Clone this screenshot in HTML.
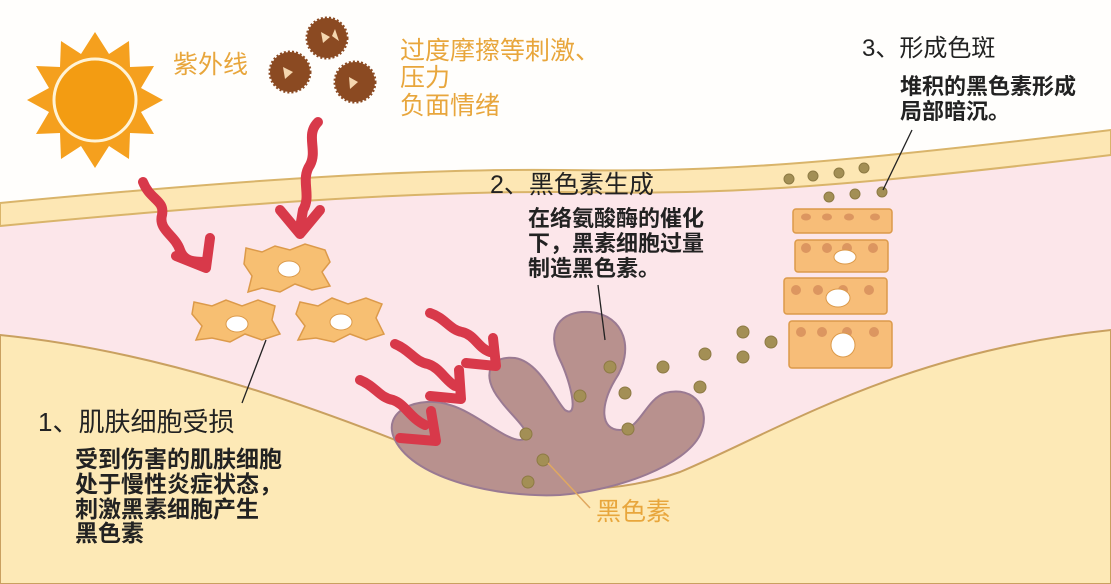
<!DOCTYPE html>
<html><head><meta charset="utf-8"><style>
html,body{margin:0;padding:0;background:#fff;}
svg{display:block;}
text{font-family:"Liberation Sans","Noto Sans CJK SC",sans-serif;}
</style></head><body>
<svg width="1111" height="584" viewBox="0 0 1111 584" xmlns="http://www.w3.org/2000/svg">
<rect width="1111" height="584" fill="#fffefc"/>
<path d="M0,215 C200,195 400,178 560,180 C700,183 800,180 1111,143 L1111,584 L0,584Z" fill="#fce6ea"/>
<path d="M0,203 C200,184 400,168 560,170 C700,172 800,168 1111,130 L1111,155 C800,193 700,194 560,192 C400,191 200,207 0,226Z" fill="#fde7b4" stroke="#d9b46a" stroke-width="2"/>
<path d="M0,335 C150,350 300,400 450,462 C520,490 600,500 680,472 C780,430 900,352 1111,330 L1111,584 L0,584Z" fill="#fde9b6" stroke="#c9a060" stroke-width="2"/>

<g transform="translate(95,100)">
<polygon fill="#f5a01e" points="0,-68 14,-46 34,-59 35,-33 59,-34 46,-12 68,0 46,12 59,34 35,33 34,59 14,46 0,68 -14,46 -34,59 -35,33 -59,34 -46,12 -68,0 -46,-12 -59,-34 -35,-33 -34,-59 -14,-46"/>
<circle r="41" fill="#f39c12" stroke="#fff3d6" stroke-width="3"/>
</g>
<g fill="#8b4a22" stroke="#8b4a22" stroke-width="3" stroke-dasharray="2 2">
<circle cx="327" cy="38" r="20"/><circle cx="290" cy="72" r="20"/><circle cx="355" cy="82" r="20"/>
</g>
<g fill="#f5d7b0"><polygon points="321,32 330,37 323,43"/><polygon points="283,67 293,72 285,79"/><polygon points="349,77 358,82 350,89"/><polygon points="335,29 339,41 332,36"/></g>

<path d="M395,440 C380,410 420,395 450,405 C475,412 505,440 520,440 C540,438 510,415 500,400 C480,375 490,355 515,358 C540,362 555,400 565,410 C580,420 570,380 560,360 C545,330 560,310 590,312 C625,315 635,350 615,380 C600,405 600,430 620,430 C640,430 645,400 665,393 C695,385 712,410 700,435 C685,465 620,490 560,495 C500,498 415,480 395,440Z" fill="#b8918e" stroke="#9a7a92" stroke-width="2"/>

<g fill="#f7bf72" stroke="#dc9a4a" stroke-width="1.5">
<path d="M246,248 L262,252 L275,246 L290,250 L305,244 L325,250 L330,262 L322,272 L330,286 L312,290 L295,284 L280,292 L262,288 L248,292 L252,276 L244,264Z"/>
<path d="M194,302 L212,306 L226,300 L242,306 L258,300 L275,306 L272,320 L280,334 L262,340 L245,334 L230,342 L212,338 L196,340 L202,326 L192,314Z"/>
<path d="M300,302 L318,306 L332,298 L348,304 L366,298 L382,304 L376,318 L384,334 L366,340 L350,334 L334,342 L316,338 L298,340 L305,326 L296,314Z"/>
</g>
<g fill="#fff" stroke="#dc9a4a" stroke-width="1"><ellipse cx="289" cy="269" rx="11" ry="8"/><ellipse cx="237" cy="324" rx="11" ry="8"/><ellipse cx="341" cy="322" rx="11" ry="8"/></g>

<g fill="none" stroke="#d8394a" stroke-width="10" stroke-linecap="round" stroke-linejoin="round">
<path d="M143,182 C150,200 165,200 162,215 C158,230 175,235 180,250 C184,262 195,262 205,262"/>
<path d="M176,256 L206,268 L210,238"/>
<path d="M318,122 C305,135 318,150 310,165 C300,180 312,195 303,210 L300,228"/>
<path d="M280,210 L300,234 L320,210"/>
<path d="M430,313 C445,318 450,330 462,332 C475,335 478,348 490,352"/>
<path d="M466,363 L496,366 L493,338"/>
<path d="M395,344 C410,350 415,362 428,364 C440,368 445,380 455,386"/>
<path d="M430,396 L461,399 L459,370"/>
<path d="M360,380 C375,386 380,398 393,400 C405,404 410,418 425,425"/>
<path d="M400,438 L436,441 L431,411"/>
</g>

<g fill="#a38f55" stroke="#8d7a44" stroke-width="1">
<circle cx="610" cy="367" r="6"/><circle cx="580" cy="396" r="6"/><circle cx="625" cy="393" r="6"/><circle cx="663" cy="367" r="6"/><circle cx="705" cy="354" r="6"/><circle cx="700" cy="387" r="6"/><circle cx="743" cy="332" r="6"/><circle cx="743" cy="357" r="6"/><circle cx="771" cy="342" r="6"/><circle cx="526" cy="434" r="6"/><circle cx="543" cy="460" r="6"/><circle cx="528" cy="482" r="6"/><circle cx="628" cy="429" r="6"/>
<circle cx="789" cy="179" r="5"/><circle cx="813" cy="176" r="5"/><circle cx="839" cy="173" r="5"/><circle cx="864" cy="168" r="5"/><circle cx="829" cy="197" r="5"/><circle cx="855" cy="194" r="5"/><circle cx="882" cy="192" r="5"/>
</g>

<g fill="#f7bd78" stroke="#dc9a4a" stroke-width="1.5">
<rect x="793" y="209" width="99" height="24" rx="3"/>
<rect x="795" y="240" width="93" height="32" rx="3"/>
<rect x="784" y="278" width="103" height="36" rx="3"/>
<rect x="789" y="321" width="103" height="47" rx="3"/>
</g>
<g fill="#dc9660">
<ellipse cx="806" cy="217" rx="5" ry="3.5"/><ellipse cx="827" cy="217" rx="5" ry="3.5"/><ellipse cx="849" cy="217" rx="5" ry="3.5"/><ellipse cx="875" cy="217" rx="5" ry="3.5"/>
<circle cx="806" cy="248" r="5"/><circle cx="827" cy="248" r="5"/><circle cx="847" cy="248" r="5"/><circle cx="873" cy="248" r="5"/>
<circle cx="796" cy="290" r="5"/><circle cx="818" cy="290" r="5"/><circle cx="843" cy="290" r="5"/><circle cx="869" cy="290" r="5"/>
<circle cx="801" cy="332" r="5"/><circle cx="822" cy="332" r="5"/><circle cx="847" cy="332" r="5"/><circle cx="874" cy="332" r="5"/>
</g>
<g fill="#fff" stroke="#dc9a4a" stroke-width="1"><ellipse cx="845" cy="257" rx="11" ry="7"/><ellipse cx="838" cy="298" rx="12" ry="9"/><circle cx="843" cy="345" r="12"/></g>

<g stroke="#222" stroke-width="1.3"><line x1="598" y1="285" x2="605" y2="340"/><line x1="912" y1="130" x2="883" y2="190"/><line x1="266" y1="340" x2="242" y2="403"/></g>
<line x1="548" y1="463" x2="590" y2="508" stroke="#e0a860" stroke-width="1.5"/>

<g fill="#e8a63c">
<text x="173" y="73" font-size="25">紫外线</text>
<text x="400" y="59" font-size="25">过度摩擦等刺激、</text>
<text x="400" y="86" font-size="25">压力</text>
<text x="400" y="114" font-size="25">负面情绪</text>
<text x="596" y="520" font-size="25">黑色素</text>
</g>
<g fill="#222">
<text x="862" y="56" font-size="24">3、形成色斑</text>
<text x="900" y="94" font-size="22" font-weight="bold">堆积的黑色素形成</text>
<text x="900" y="119" font-size="22" font-weight="bold">局部暗沉。</text>
<text x="490" y="193" font-size="25">2、黑色素生成</text>
<text x="528" y="226" font-size="22" font-weight="bold">在络氨酸酶的催化</text>
<text x="528" y="251" font-size="22" font-weight="bold">下，黑素细胞过量</text>
<text x="528" y="276" font-size="22" font-weight="bold">制造黑色素。</text>
<text x="38" y="431" font-size="26">1、肌肤细胞受损</text>
<text x="75" y="467" font-size="23" font-weight="bold">受到伤害的肌肤细胞</text>
<text x="75" y="492" font-size="23" font-weight="bold">处于慢性炎症状态，</text>
<text x="75" y="517" font-size="23" font-weight="bold">刺激黑素细胞产生</text>
<text x="75" y="541" font-size="23" font-weight="bold">黑色素</text>
</g>
</svg>
</body></html>
